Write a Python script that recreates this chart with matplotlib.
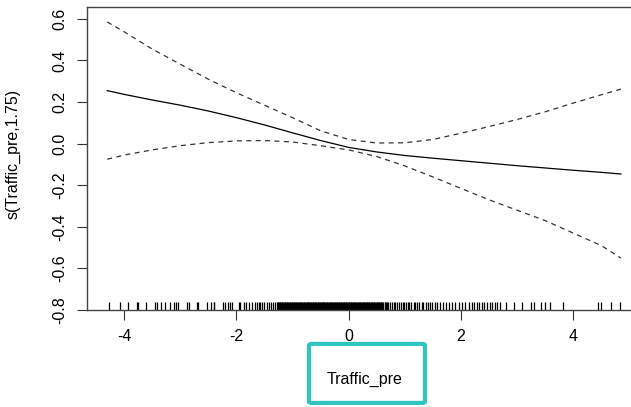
import numpy as np
import matplotlib.pyplot as plt
from matplotlib.patches import FancyBboxPatch

plt.rcParams['font.family'] = ['Liberation Sans', 'DejaVu Sans']

# smooth term estimate and +-2 se band
x = [-4.3, -4.0, -3.5, -3.0, -2.5, -2.0, -1.5, -1.0, -0.5, 0.0, 0.5,
     1.0, 1.5, 2.0, 2.5, 3.0, 3.5, 4.0, 4.5, 4.85]
fit = [0.255, 0.237, 0.21, 0.185, 0.157, 0.125, 0.09, 0.052, 0.015, -0.018, -0.04,
       -0.057, -0.07, -0.082, -0.094, -0.106, -0.117, -0.128, -0.138, -0.146]
upper = [0.585, 0.538, 0.455, 0.382, 0.31, 0.245, 0.185, 0.125, 0.062, 0.02, 0.003,
         0.004, 0.02, 0.05, 0.082, 0.116, 0.153, 0.195, 0.235, 0.262]
lower = [-0.075, -0.055, -0.03, -0.01, 0.005, 0.013, 0.015, 0.008, -0.01, -0.03, -0.062,
         -0.107, -0.16, -0.215, -0.27, -0.32, -0.37, -0.43, -0.49, -0.55]

# observed Traffic_pre values (rug)
rug = [-4.27, -4.08, -3.93, -3.77, -3.75, -3.61, -3.45, -3.41, -3.35, -3.27,
       -3.18, -3.11, -3.07, -3.04, -2.88, -2.85, -2.70, -2.68, -2.52, -2.46,
       -2.40, -2.39, -2.23, -2.20, -2.15, -2.12, -2.08, -1.96, -1.93, -1.87,
       -1.83, -1.77, -1.72, -1.67, -1.63, -1.60, -1.57, -1.54, -1.50, -1.45,
       -1.42, -1.38, -1.34, -1.31,
       -1.28, -1.25, -1.23, -1.20, -1.18, -1.15, -1.13, -1.10, -1.08, -1.05,
       -1.03, -1.00, -0.98, -0.95, -0.93, -0.90, -0.88, -0.85, -0.83, -0.80,
       -0.78, -0.75, -0.73, -0.70, -0.68, -0.65, -0.63, -0.60, -0.58, -0.55,
       -0.53, -0.50, -0.48, -0.45, -0.43, -0.40, -0.38, -0.35, -0.33, -0.30,
       -0.28, -0.25, -0.23, -0.20, -0.18, -0.15, -0.13, -0.10, -0.08, -0.05,
       -0.03, 0.00, 0.02, 0.05, 0.07, 0.10, 0.12, 0.15, 0.17, 0.20,
       0.22, 0.25, 0.27, 0.30, 0.32, 0.35, 0.37, 0.40, 0.42, 0.45,
       0.47, 0.50, 0.52, 0.55, 0.57, 0.60,
       -1.265, -1.24, -1.215, -1.19, -1.165, -1.14, -1.115, -1.09, -1.065, -1.04,
       -1.015, -0.99, -0.965, -0.94, -0.915, -0.89, -0.865, -0.84, -0.815, -0.79,
       -0.765, -0.74, -0.715, -0.69, -0.665, -0.64, -0.615, -0.59, -0.565, -0.54,
       -0.515, -0.49, -0.465, -0.44, -0.415, -0.39, -0.365, -0.34, -0.315, -0.29,
       -0.265, -0.24, -0.215, -0.19, -0.165, -0.14, -0.115, -0.09, -0.065, -0.04,
       -0.015, 0.01, 0.035, 0.06, 0.085, 0.11, 0.135, 0.16, 0.185, 0.21,
       0.235, 0.26, 0.285, 0.31, 0.335, 0.36, 0.385, 0.41, 0.435, 0.46,
       0.485, 0.51, 0.535, 0.56, 0.585, 0.62, 0.655, 0.685,
       0.64, 0.67, 0.70, 0.74, 0.77, 0.80, 0.82, 0.86, 0.89, 0.93,
       0.96, 0.99, 1.02, 1.05, 1.08, 1.12, 1.16, 1.19, 1.22, 1.26,
       1.30, 1.33, 1.37, 1.41, 1.45, 1.49,
       1.54, 1.58, 1.63, 1.68, 1.74, 1.79, 1.85, 1.90, 1.96, 2.02,
       2.08, 2.14, 2.20, 2.24,
       2.28, 2.32, 2.37, 2.41, 2.46, 2.52, 2.56, 2.61, 2.64, 2.70,
       2.81, 2.95, 3.09, 3.24, 3.31, 3.42, 3.49, 3.58, 3.82, 4.45,
       4.49, 4.68, 4.84]

xticks = [-4, -2, 0, 2, 4]
yticks = [-0.8, -0.6, -0.4, -0.2, 0.0, 0.2, 0.4, 0.6]

fig = plt.figure(figsize=(6.31, 4.07), dpi=100)
ax = fig.add_axes([0.1379, 0.2383, 0.8621, 0.7445])

ax.plot(x, fit, color='black', lw=0.9)
ax.plot(x, upper, color='#333333', lw=0.9, linestyle=(0, (4, 3.5)))
ax.plot(x, lower, color='#333333', lw=0.9, linestyle=(0, (4, 3.5)))
ax.vlines(rug, -0.8, -0.762, color='black', lw=0.9)

ax.set_xlim(-4.66, 5.03)
ax.set_ylim(-0.8, 0.657)
ax.set_xticks(xticks)
ax.set_xticklabels([str(t) for t in xticks])
ax.set_yticks(yticks)
ax.set_yticklabels(['%.1f' % t for t in yticks], rotation=90, va='center')
ax.tick_params(direction='out', length=7, width=0.8, colors='#333333',
               labelcolor='black', labelsize=11.5, pad=7)

for side in ['left', 'bottom', 'top']:
    ax.spines[side].set_color('#444444')
    ax.spines[side].set_linewidth(1.0)
ax.spines['right'].set_visible(False)

ax.set_ylabel('s(Traffic_pre,1.75)', fontsize=11.5)
ax.yaxis.set_label_coords(-0.123, 0.515)
ax.set_xlabel('Traffic_pre', fontsize=11.5, va='center')
ax.xaxis.set_label_coords(0.51, -0.228)

box = FancyBboxPatch((0.4897, 0.0100), 0.1838, 0.1450,
                     boxstyle='round,pad=0,rounding_size=0.004',
                     transform=fig.transFigure, fill=False,
                     edgecolor='#30C5BE', lw=3.0)
fig.patches.append(box)

fig.savefig('out.png', dpi=100)
